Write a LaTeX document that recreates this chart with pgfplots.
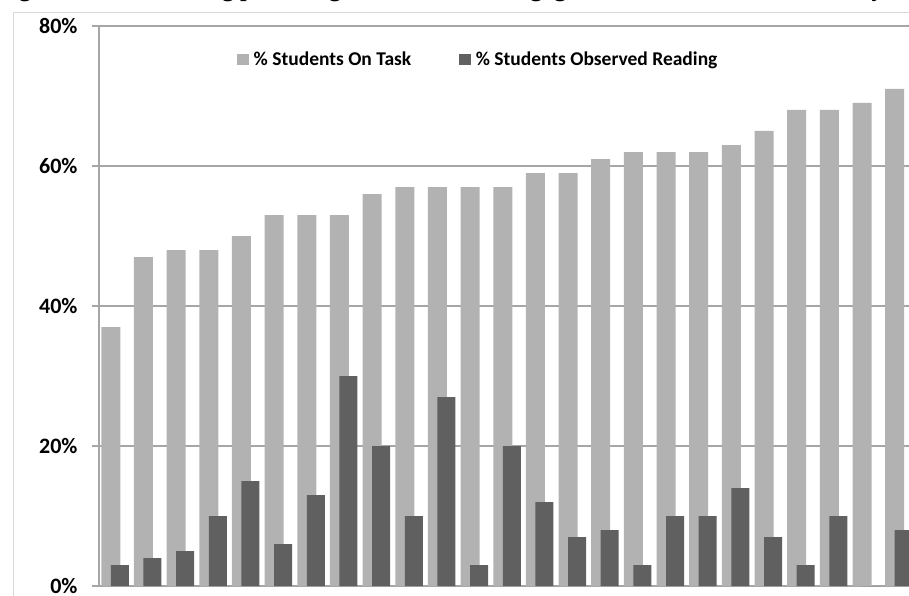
\documentclass[border=0pt]{standalone}
\usepackage{pgfplots}
\usepackage{pgfplotstable}
\pgfplotsset{compat=1.18}
\usepackage{fontspec}
\setmainfont{Liberation Serif}
\newfontfamily\carlito{Carlito}

\definecolor{ontask}{RGB}{178,178,178}
\definecolor{reading}{RGB}{96,96,96}
\definecolor{gridgray}{RGB}{166,166,166}
\definecolor{framegray}{RGB}{217,217,217}

% classroom, % students on task, % students observed reading
\pgfplotstableread{
cls ontask reading
1  37 3
2  47 4
3  48 5
4  48 10
5  50 15
6  53 6
7  53 13
8  53 30
9  56 20
10 57 10
11 57 27
12 57 3
13 57 20
14 59 12
15 59 7
16 61 8
17 62 3
18 62 10
19 62 10
20 63 14
21 65 7
22 68 3
23 68 10
24 69 0
25 71 8
}\datatable

\begin{document}
\begin{tikzpicture}[x=1pt,y=1pt]
\useasboundingbox (0,0) rectangle (909,595);
\clip (0,0) rectangle (909,595);
\node[anchor=base west, inner sep=0pt, font=\bfseries\fontsize{24}{28}\selectfont]
  at (-2.3,598.5) {Figure 12: Contrasting percentages of all student engagement and on-task behavior by classroom};
\draw[framegray, line width=1pt] (13.5,-20) -- (13.5,582.5) -- (940,582.5);
\begin{axis}[
  at={(99pt,9pt)}, anchor=south west, scale only axis,
  width=816.5pt, height=560pt,
  xmin=0.5, xmax=25.5, ymin=0, ymax=80,
  xtick=\empty,
  ytick={0,20,40,60,80},
  yticklabels={0\%,20\%,40\%,60\%,80\%},
  ymajorgrids, grid style={gridgray, line width=1.3pt},
  axis lines*=left,
  axis line style={gridgray, line width=1.3pt},
  tick style={gridgray, line width=1.3pt},
  major tick length=7pt, tick align=outside,
  yticklabel style={font=\carlito\bfseries\fontsize{22}{26}\selectfont, text=black, xshift=-11pt},
  legend style={at={(axis description cs:0.169,0.941)}, anchor=west,
    draw=none, fill=none, inner sep=0pt,
    font=\carlito\bfseries\fontsize{19.5}{22}\selectfont,
    nodes={inner sep=0pt},
    /tikz/every odd column/.append style={column sep=5pt},
    /tikz/every even column/.append style={column sep=48pt}},
  legend columns=2, legend cell align=left,
  legend image code/.code={\fill[#1,draw=none] (0pt,-5.5pt) rectangle (11.5pt,5.5pt);},
]
\addplot[ybar, bar width=19pt, bar shift=-4.5pt, fill=ontask, draw=none]
  table[x=cls, y=ontask]{\datatable};
\addplot[ybar, bar width=18pt, bar shift=4.5pt, fill=reading, draw=none]
  table[x=cls, y=reading]{\datatable};
\legend{\% Students On Task, \% Students Observed Reading}
\end{axis}
\end{tikzpicture}
\end{document}
